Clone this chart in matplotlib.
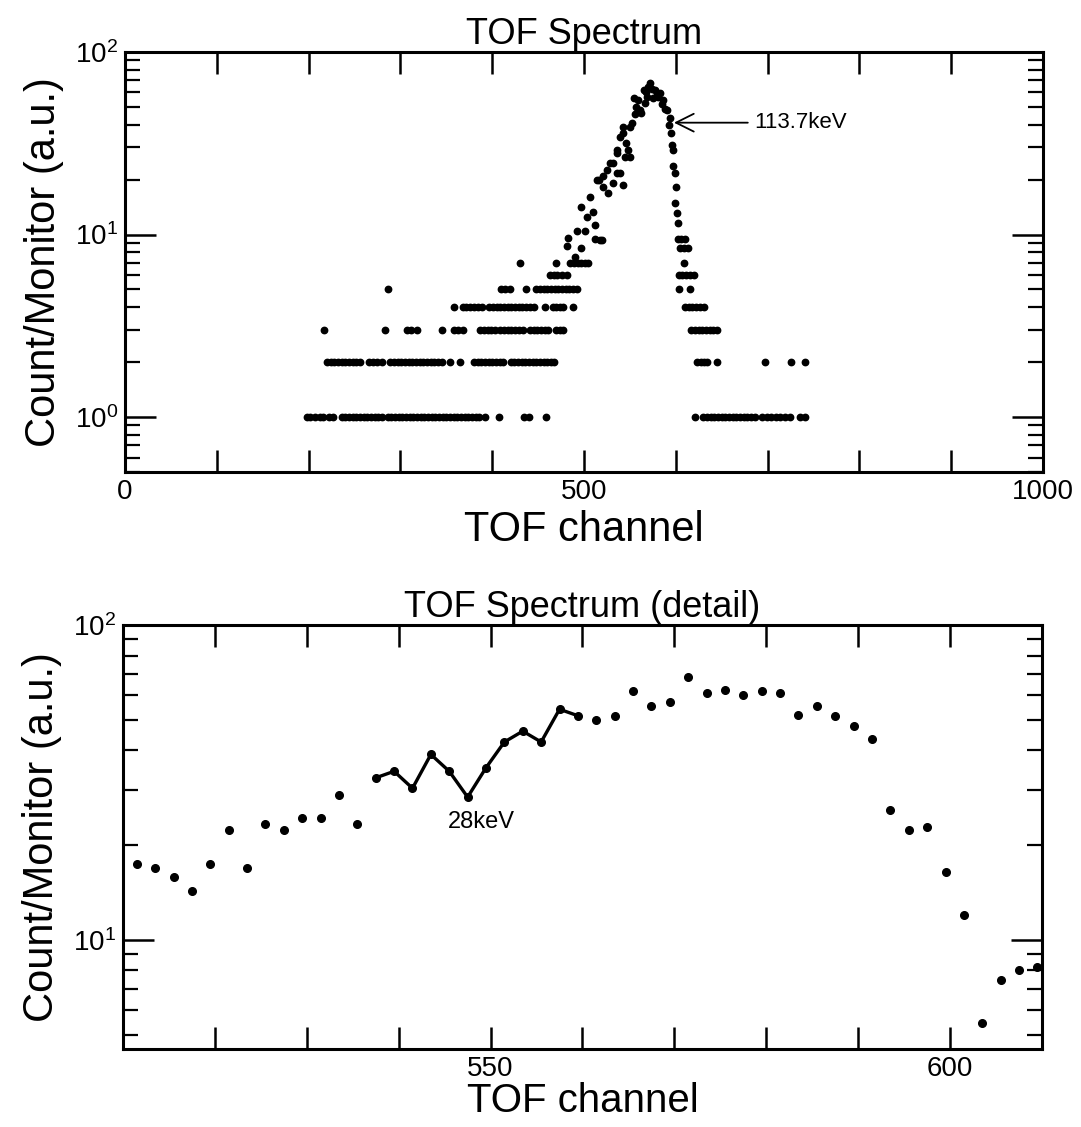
import numpy as np
import matplotlib
matplotlib.use("Agg")
import matplotlib.pyplot as plt
from matplotlib.ticker import LogLocator, NullFormatter, FixedLocator, FixedFormatter

plt.rcParams['font.family'] = ['Liberation Sans', 'DejaVu Sans']
plt.rcParams['mathtext.fontset'] = 'custom'
plt.rcParams['mathtext.rm'] = 'Liberation Sans'
plt.rcParams['mathtext.it'] = 'Liberation Sans:italic'

# =========================
# DATA
# =========================
# top panel: tail rows at integer count levels
level1_ch = [198, 202, 207, 212, 216, 222, 227, 236, 240, 244, 248, 252, 256, 260, 264,
             268, 272, 276, 280, 286, 290, 294, 298, 302, 306, 310, 314, 318, 322, 326,
             330, 334, 338, 342, 346, 350, 354, 358, 362, 366, 370, 374, 378, 382, 386,
             392, 407, 435, 440, 459, 621, 630, 634, 638, 642, 646, 650, 654, 658, 662,
             666, 670, 674, 678, 682, 686, 694, 699, 704, 709, 714, 719, 724, 735, 741]
level2_ch = [220, 224, 228, 232, 236, 240, 244, 248, 252, 256, 266, 270, 275, 280, 289,
             293, 297, 301, 305, 309, 313, 317, 321, 325, 329, 333, 337, 341, 345, 354,
             365, 380, 384, 388, 392, 396, 400, 404, 408, 412, 420, 424, 428, 432, 436,
             440, 444, 448, 452, 456, 460, 464, 467, 623, 627, 631, 634, 645, 697, 725, 741]
level3_ch = [217, 283, 307, 312, 318, 345, 358, 363, 368, 387, 391, 395, 399, 403, 409,
             413, 417, 421, 425, 429, 434, 441, 445, 449, 453, 457, 461, 470, 474, 477,
             617, 621, 625, 629, 633, 637, 641, 645]
level4_ch = [358, 368, 372, 376, 380, 384, 389, 397, 401, 405, 409, 413, 417, 421, 425,
             429, 433, 437, 441, 445, 457, 466, 470, 474, 477, 488, 610, 614, 618, 622,
             626, 631]
level5_ch = [287, 410, 414, 419, 437, 448, 452, 456, 460, 464, 468, 472, 476, 480, 484,
             488, 492, 603, 615]
level6_ch = [463, 467, 471, 476, 481, 603, 607, 611, 615, 620]
level7_ch = [430, 470, 485, 489, 493, 497, 501, 504, 609]

# top panel: peak region (channel, count/monitor)
peak_ch = [481, 490, 497, 483, 492, 501, 512, 517, 520, 497, 507, 503, 510, 512, 514,
           521, 526, 532, 543, 536, 525, 528, 539, 546, 550, 536, 543, 552, 557, 562,
           554, 566, 572, 577, 583, 586, 590, 594, 581, 585, 588, 565, 559, 561, 556,
           550, 543, 548, 545, 536, 532, 539, 521, 516, 568, 570, 574, 579, 575, 569,
           593, 595, 596, 597, 597, 599, 600, 599, 601, 602, 602, 606, 610, 605, 609, 613]
peak_val = [8.6, 7.5, 8.4, 9.6, 10.4, 10.4, 9.5, 9.3, 9.3, 14.2, 16.1, 12.5, 13.3, 11.3, 19.9,
            18.3, 16.8, 19.1, 18.7, 21.6, 22.6, 24.5, 34.4, 31.6, 26.7, 29.0, 39.0, 40.7, 50.1, 46.1,
            55.7, 52.4, 67.3, 61.9, 59.4, 54.6, 48.1, 43.3, 57.0, 52.0, 49.0, 62.0, 54.6, 48.0, 46.0,
            39.0, 36.0, 29.0, 26.7, 27.8, 24.6, 21.7, 20.8, 19.9, 60.0, 64.0, 63.0, 58.0, 56.0, 57.0,
            40.0, 35.9, 31.0, 29.0, 23.6, 21.6, 18.3, 14.8, 13.1, 11.5, 9.4, 9.4, 9.4, 8.4, 8.4, 8.4]

# bottom panel: detail
detail_ch = [511.5, 513.5, 515.5, 517.5, 519.5, 521.5, 523.5, 525.5, 527.5, 529.5,
             531.5, 533.5, 535.5, 537.5, 539.5, 541.5, 543.5, 545.5, 547.5, 549.5,
             551.5, 553.5, 555.5, 557.5, 559.5, 561.5, 563.5, 565.5, 567.5, 569.5,
             571.5, 573.5, 575.5, 577.5, 579.5, 581.5, 583.5, 585.5, 587.5, 589.5,
             591.5, 593.5, 595.5, 597.5, 599.5, 601.5, 603.5, 605.5, 607.5, 609.5]
detail_val = [17.4, 16.9, 15.8, 14.3, 17.4, 22.3, 16.9, 23.3, 22.3, 24.4,
              24.4, 28.8, 23.3, 32.7, 34.3, 30.3, 38.8, 34.3, 28.4, 35.2,
              42.5, 46.0, 42.5, 54.0, 51.5, 50.0, 51.5, 61.9, 55.3, 57.1,
              68.5, 60.6, 62.3, 60.1, 61.9, 61.0, 51.6, 55.3, 51.3, 47.9,
              43.5, 25.8, 22.3, 22.8, 16.4, 12.0, 5.43, 7.47, 8.0, 8.2]
line_start, line_stop = 13, 25   # connected stretch 537.5 .. 559.5

top_xticks = [0, 100, 200, 300, 400, 500, 600, 700, 800, 900, 1000]
top_xlabels = ['0', '', '', '', '', '500', '', '', '', '', '1000']
bot_xticks = [520, 530, 540, 550, 560, 570, 580, 590, 600]
bot_xlabels = ['', '', '', '550', '', '', '', '', '600']

# =========================
# FIGURE
# =========================
W, H = 1081, 1127
fig = plt.figure(figsize=(W / 100, H / 100), dpi=100)
ax1 = fig.add_axes([125 / W, 1 - 472 / H, 918 / W, 420 / H])
ax2 = fig.add_axes([123 / W, 1 - 1049 / H, 919 / W, 424 / H])


def style(ax, xticks, xlabels):
    ax.set_yscale('log')
    ax.xaxis.set_major_locator(FixedLocator(xticks))
    ax.xaxis.set_major_formatter(FixedFormatter(xlabels))
    ax.yaxis.set_major_locator(LogLocator(base=10))
    ax.yaxis.set_minor_locator(LogLocator(base=10, subs=range(2, 10)))
    ax.yaxis.set_minor_formatter(NullFormatter())
    ax.tick_params(which='both', direction='in', top=True, right=True, color='black')
    ax.tick_params(axis='x', which='major', length=16, width=1.8, labelsize=20, pad=5)
    ax.tick_params(axis='y', which='major', length=22, width=1.8, labelsize=20, pad=5)
    ax.tick_params(axis='y', which='minor', length=11, width=1.6)
    for s in ax.spines.values():
        s.set_linewidth(2.2)


# top panel
rows = [(level1_ch, 1), (level2_ch, 2), (level3_ch, 3), (level4_ch, 4),
        (level5_ch, 5), (level6_ch, 6), (level7_ch, 7)]
for chs, lev in rows:
    ax1.plot(chs, [lev] * len(chs), 'o', color='black', ms=4.6, ls='none')
ax1.plot(peak_ch, peak_val, 'o', color='black', ms=4.6, ls='none')
style(ax1, top_xticks, top_xlabels)
ax1.set_xlim(0, 1000)
ax1.set_ylim(0.5, 100)
ax1.set_title('TOF Spectrum', fontsize=26, pad=4)
ax1.set_xlabel('TOF channel', fontsize=30, labelpad=4)
ax1.set_ylabel('Count/Monitor (a.u.)', fontsize=30, labelpad=8)
ax1.annotate('113.7keV', xy=(598, 41), xytext=(686, 41), fontsize=16, va='center',
             arrowprops=dict(arrowstyle='->', lw=1.3, mutation_scale=32,
                             color='black', shrinkA=3, shrinkB=0))

# bottom panel
ax2.plot(detail_ch, detail_val, 'o', color='black', ms=5.5, ls='none', clip_on=False)
ax2.plot(detail_ch[line_start:line_stop], detail_val[line_start:line_stop],
         '-', color='black', lw=2.4)
style(ax2, bot_xticks, bot_xlabels)
ax2.set_xlim(510, 610)
ax2.set_ylim(4.5, 100)
ax2.set_title('TOF Spectrum (detail)', fontsize=26, pad=4)
ax2.set_xlabel('TOF channel', fontsize=29, labelpad=0)
ax2.set_ylabel('Count/Monitor (a.u.)', fontsize=30, labelpad=8)
ax2.text(549, 23.7, '28keV', fontsize=17, ha='center', va='center')

fig.savefig('out.png', dpi=100)
